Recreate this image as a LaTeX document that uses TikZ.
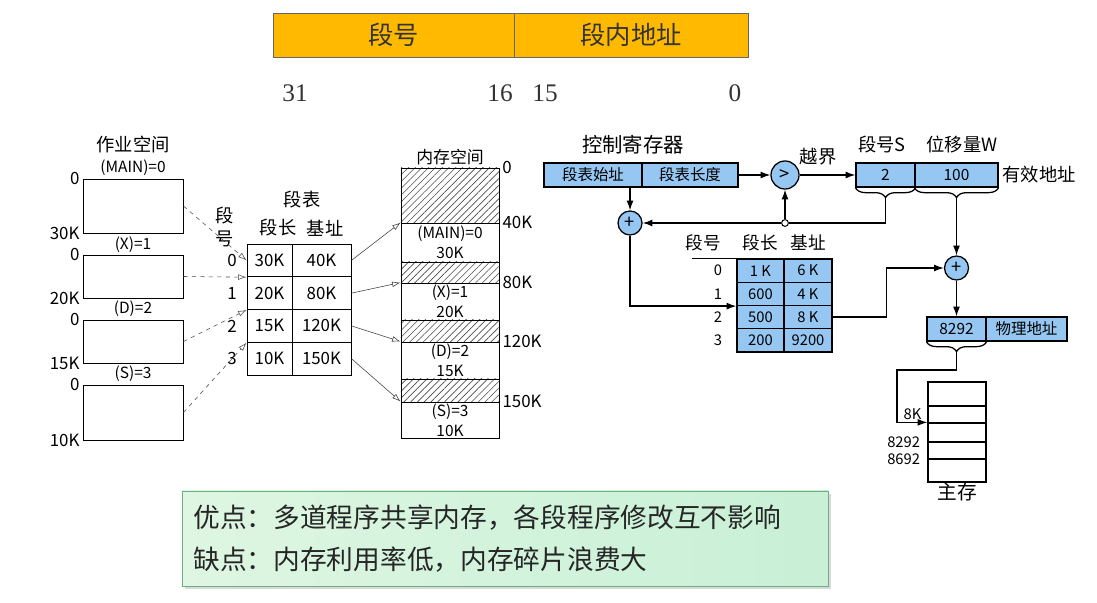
\documentclass[tikz,border=0pt]{standalone}
\usepackage{fontspec}
\setmainfont{Liberation Serif}
\newfontfamily\cjk{Noto Sans CJK SC}
\usetikzlibrary{arrows.meta,patterns.meta,decorations.pathreplacing,shadows,calc}

\definecolor{barorange}{RGB}{255,186,0}
\definecolor{cellblue}{RGB}{150,199,242}
\definecolor{notegreenL}{RGB}{222,246,226}
\definecolor{notegreenR}{RGB}{200,240,214}
\definecolor{noteedge}{RGB}{110,175,125}

\tikzset{
  fieldbar/.style={draw=black!60, fill=barorange, minimum height=1.1cm, inner sep=0pt,
    font=\cjk\fontsize{18}{20}\selectfont, text=black!80},
  bitno/.style={font=\fontsize{18}{20}\selectfont, text=black!80, inner sep=1pt},
  numlbl/.style={font=\cjk\fontsize{12}{14}\selectfont, inner sep=2pt},
  jobbox/.style={draw, minimum width=2.5cm, inner sep=0pt, line width=0.6pt},
  tcell/.style={draw, inner sep=0pt, minimum height=0.819cm, line width=0.6pt,
    font=\cjk\fontsize{12}{14}\selectfont},
  memfree/.style={draw, minimum width=2.45cm, inner sep=0pt, line width=0.6pt,
    pattern={Lines[angle=45,distance=3.4pt,line width=0.45pt]}, pattern color=black!70},
  memseg/.style={draw, minimum width=2.45cm, inner sep=0pt, align=center, line width=0.6pt,
    font=\cjk\fontsize{11}{14}\selectfont},
  dasharr/.style={dashed, black!70, -{Latex[open,length=6pt,width=4pt]}},
  openarr/.style={black!75, -{Latex[open,length=6pt,width=4pt]}},
  bluecell/.style={draw, line width=0.9pt, fill=cellblue, inner sep=0pt, minimum height=0.6cm,
    font=\cjk\fontsize{11}{13}\selectfont},
  rcell/.style={draw, line width=0.9pt, fill=cellblue, inner sep=0pt, minimum height=0.581cm,
    font=\cjk\fontsize{10.5}{12}\selectfont},
  adder/.style={circle, draw, line width=0.9pt, fill=cellblue, minimum size=0.6cm, inner sep=0pt,
    font=\cjk\fontsize{13}{14}\selectfont},
  flow/.style={line width=0.9pt, -{Latex[length=7pt,width=5pt]}},
  wire/.style={line width=0.9pt},
  under/.style={decorate, decoration={brace, mirror, amplitude=0.25cm}, line width=0.9pt},
  rlbl/.style={font=\cjk\fontsize{13}{15}\selectfont, inner sep=1pt},
  smlbl/.style={font=\cjk\fontsize{10.5}{12}\selectfont, inner sep=1pt}
}

\begin{document}
\begin{tikzpicture}[x=0.025cm, y=-0.025cm]
\useasboundingbox (0,0) rectangle (1097,603);

% logical address format
\node[fieldbar, minimum width=6.025cm] (segno) at (393.5,35) {段号};
\node[fieldbar, minimum width=5.85cm] (segoff) at (631,35) {段内地址};
\node[bitno] (b31) at (295,93) {31};
\node[bitno] (b16) at (500,93) {16};
\node[bitno] (b15) at (545,93) {15};
\node[bitno] (b0) at (735,93) {0};

% job address space
\node[numlbl, font=\cjk\fontsize{13}{15}\selectfont] (jobtitle) at (133,145) {作业空间};
\node[numlbl, font=\cjk\fontsize{11}{13}\selectfont] (jmain) at (133,168) {(MAIN)=0};
\node[jobbox, minimum height=1.35cm] (jobA) at (133,206) {};
\node[numlbl, font=\cjk\fontsize{11}{13}\selectfont] (jx) at (133,245) {(X)=1};
\node[jobbox, minimum height=1.075cm] (jobX) at (133,276.5) {};
\node[numlbl, font=\cjk\fontsize{11}{13}\selectfont] (jd) at (133,309) {(D)=2};
\node[jobbox, minimum height=1.075cm] (jobD) at (133,341.5) {};
\node[numlbl, font=\cjk\fontsize{11}{13}\selectfont] (js) at (133,374) {(S)=3};
\node[jobbox, minimum height=1.375cm] (jobS) at (133,412.5) {};
\node[numlbl, anchor=east] (ja0) at (jobA.north west) {0};
\node[numlbl, anchor=east] (ja1) at (jobA.south west) {30K};
\node[numlbl, anchor=east] (jx0) at (jobX.north west) {0};
\node[numlbl, anchor=east] (jx1) at (jobX.south west) {20K};
\node[numlbl, anchor=east] (jd0) at (jobD.north west) {0};
\node[numlbl, anchor=east] (jd1) at (jobD.south west) {15K};
\node[numlbl, anchor=east] (js0) at (jobS.north west) {0};
\node[numlbl, anchor=east] (js1) at (jobS.south west) {10K};

% segment table
\node[numlbl, font=\cjk\fontsize{13}{15}\selectfont] (sttitle) at (302,200) {段表};
\node[numlbl, font=\cjk\fontsize{13}{15}\selectfont] (sthlen) at (278,228) {段长};
\node[numlbl, font=\cjk\fontsize{13}{15}\selectfont] (sthbase) at (325,228) {基址};
\node[numlbl, font=\cjk\fontsize{13}{15}\selectfont, align=center] (sthno) at (225,227) {段\\[1pt]号};
\foreach \len/\base [count=\i from 0] in {30K/40K,20K/80K,15K/120K,10K/150K} {
  \node[tcell, minimum width=1.125cm] (len\i) at (269.5,260.4+32.75*\i) {\len};
  \node[tcell, minimum width=1.475cm] (base\i) at (321.5,260.4+32.75*\i) {\base};
  \node[numlbl] (no\i) at (232,260.4+32.75*\i) {\i};
}
\draw[dasharr] (jobA.east) -- (len0.west);
\draw[dasharr] (jobX.east) -- (len0.south west);
\draw[dasharr] (jobD.east) -- (len1.south west);
\draw[dasharr] (jobS.east) -- (len2.south west);

% main memory
\node[numlbl, font=\cjk\fontsize{12}{14}\selectfont] (memtitle) at (450,157) {内存空间};
\node[memfree, minimum height=1.375cm] (free0) at (450,195.5) {};
\node[memseg, minimum height=0.975cm] (segA) at (450,242.5) {(MAIN)=0\\30K};
\node[memfree, minimum height=0.525cm] (free1) at (450,272.5) {};
\node[memseg, minimum height=0.925cm] (segX) at (450,301.5) {(X)=1\\20K};
\node[memfree, minimum height=0.55cm] (free2) at (450,331) {};
\node[memseg, minimum height=0.925cm] (segD) at (450,360.5) {(D)=2\\15K};
\node[memfree, minimum height=0.575cm] (free3) at (450,390.5) {};
\node[memseg, minimum height=0.9cm] (segS) at (450,420) {(S)=3\\10K};
\node[numlbl, anchor=west] (m0) at (free0.north east) {0};
\node[numlbl, anchor=west] (m40) at (segA.north east) {40K};
\node[numlbl, anchor=west] (m80) at (segX.north east) {80K};
\node[numlbl, anchor=west] (m120) at (segD.north east) {120K};
\node[numlbl, anchor=west] (m150) at (segS.north east) {150K};
\draw[openarr] (base0.east) -- (segA.north west);
\draw[openarr] (base1.east) -- (segX.north west);
\draw[openarr] (base2.east) -- (segD.north west);
\draw[openarr] (base3.east) -- (segS.north west);

% address translation
\node[font=\cjk\fontsize{14.5}{16}\selectfont] (ctrltitle) at (633,145) {控制寄存器};
\node[bluecell, minimum width=2.45cm] (tabstart) at (593,175) {段表始址};
\node[bluecell, minimum width=2.4cm] (tablen) at (690,175) {段表长度};
\node[adder, minimum size=0.7cm] (cmp) at (785,175) {>};
\node[rlbl] (overflow) at (818,157) {越界};
\node[bluecell, minimum width=1.475cm] (sfield) at (885.5,175) {2};
\node[bluecell, minimum width=2.075cm] (wfield) at (956.5,175) {100};
\node[rlbl] (slbl) at (882,145) {段号S};
\node[rlbl] (wlbl) at (962,145) {位移量W};
\node[rlbl, anchor=west] (eff) at (1001,175) {有效地址};
\draw[flow] (tablen.east) -- (cmp.west);
\draw[flow] (cmp.east) -- (sfield.west);
\draw[under] (sfield.south west) -- (sfield.south east);
\draw[under] (wfield.south west) -- (wfield.south east);
\coordinate (stip) at ($(sfield.south)+(0,10)$);
\coordinate (wtip) at ($(wfield.south)+(0,10)$);

\node[adder] (plus1) at (630,223) {+};
\node[circle, draw, fill=white, line width=0.7pt, minimum size=0.17cm, inner sep=0pt] (jn) at (785,223) {};
\draw[wire] (stip) |- (jn.east);
\draw[flow] (jn.north) -- (cmp.south);
\draw[flow] (jn.west) -- (plus1.east);
\draw[flow] (plus1 |- tabstart.south) -- (plus1.north);

\node[rlbl, font=\cjk\fontsize{12.5}{14}\selectfont] (rhno) at (703,243) {段号};
\node[rlbl, font=\cjk\fontsize{12.5}{14}\selectfont] (rhlen) at (760,243) {段长};
\node[rlbl, font=\cjk\fontsize{12.5}{14}\selectfont] (rhbase) at (808,243) {基址};
\foreach \len/\base [count=\i from 0] in {1 K/6 K,600/4 K,500/8 K,200/9200} {
  \node[rcell, minimum width=1.175cm] (rlen\i) at (760.5,270.6+23.25*\i) {\len};
  \node[rcell, minimum width=1.2cm] (rbase\i) at (808,270.6+23.25*\i) {\base};
  \node[smlbl] (rno\i) at (718,270.6+23.25*\i) {\i};
}
\draw[wire] ($(rhno.west |- rlen0.north)+(8,0)$) -- (rlen0.north west);
\draw[flow] (plus1.south) |- (rlen1.south west);

\node[adder] (plus2) at (956.5,268) {+};
\draw[flow] (wtip) -- (plus2.north);
\draw[flow] (rbase2.east) -- ++(54,0) |- (plus2.west);
\node[bluecell, minimum width=1.475cm] (pfield) at (956.5,329) {8292};
\node[bluecell, minimum width=2.025cm] (pname) at (1026.5,329) {物理地址};
\draw[flow] (plus2.south) -- (pfield.north);
\draw[under] (pfield.south west) -- (pfield.south east);
\coordinate (ptip) at ($(pfield.south)+(0,10)$);

% main memory
\node[draw, line width=0.9pt, minimum width=1.45cm, minimum height=0.6cm] (mm0) at (957,394) {};
\node[draw, line width=0.9pt, minimum width=1.45cm, minimum height=0.425cm] (mm1) at (957,414.5) {};
\node[draw, line width=0.9pt, minimum width=1.45cm, minimum height=0.475cm] (mm2) at (957,432.5) {};
\node[draw, line width=0.9pt, minimum width=1.45cm, minimum height=0.425cm] (mm3) at (957,450.5) {};
\node[draw, line width=0.9pt, minimum width=1.45cm, minimum height=0.575cm] (mm4) at (957,470.5) {};
\coordinate (bend) at (897,370);
\draw[flow] (ptip) |- (bend) |- (mm2.north west);
\node[smlbl, anchor=east, xshift=-3pt] (a8k) at (mm1.west) {8K};
\node[smlbl, anchor=east, xshift=-4pt] (a8292) at (mm2.south west) {8292};
\node[smlbl, anchor=east, xshift=-4pt] (a8692) at (mm3.south west) {8692};
\node[font=\cjk\fontsize{14}{16}\selectfont, anchor=north, inner sep=0pt] (mmlbl) at (mm4.south) {主存};

% pros and cons
\node[draw=noteedge, left color=notegreenL, right color=notegreenR,
  drop shadow={shadow xshift=2pt, shadow yshift=-2pt, opacity=0.3},
  minimum width=16.15cm, minimum height=2.375cm] (note) at (505,538.5) {};
\node[anchor=west, align=left, inner sep=0pt, text=black!85,
  font=\cjk\fontsize{19}{30}\selectfont] (notetxt) at (193,539)
  {优点：多道程序共享内存，各段程序修改互不影响\\缺点：内存利用率低，内存碎片浪费大};
\end{tikzpicture}
\end{document}
